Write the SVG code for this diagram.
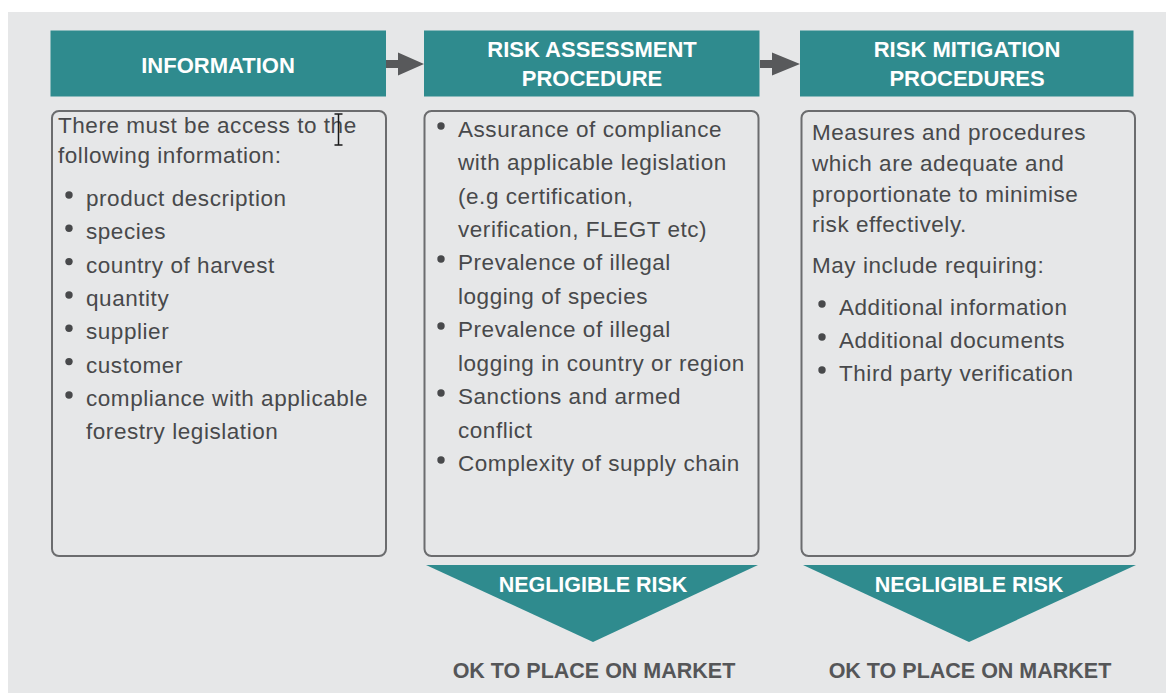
<svg xmlns="http://www.w3.org/2000/svg" width="1166" height="693" viewBox="0 0 1166 693">
  <defs>
    <style>
      .hdr { fill: #2f8b8e; }
      .box { fill: none; stroke: #6b6c6e; stroke-width: 2; }
      .htxt { font-family: "Liberation Sans", Arial, sans-serif; font-weight: bold; font-size: 22px; fill: #ffffff; text-anchor: middle; }
      .body { font-family: "Liberation Sans", Arial, sans-serif; font-size: 22.5px; letter-spacing: 0.55px; fill: #48494b; }
      .dot { fill: #48494b; }
      .tri { fill: #2f8b8e; }
      .ntxt { font-family: "Liberation Sans", Arial, sans-serif; font-weight: bold; font-size: 21.5px; fill: #ffffff; text-anchor: middle; }
      .ok { font-family: "Liberation Sans", Arial, sans-serif; font-weight: bold; font-size: 21.5px; fill: #555658; text-anchor: middle; }
      .arr { fill: #58595b; }
    </style>
  </defs>

  <rect x="0" y="0" width="1166" height="693" fill="#ffffff"/>
  <rect x="8" y="12" width="1158" height="681" fill="#e6e7e8"/>

  <g id="connectors">
    <polygon class="arr" points="386,60 398,60 398,52.5 424,64 398,75.5 398,68 386,68"/>
    <polygon class="arr" points="760,60 772,60 772,52.5 800,64 772,75.5 772,68 760,68"/>
  </g>

  <g id="information">
    <rect class="hdr" x="50.5" y="30.5" width="335.5" height="66"/>
    <text class="htxt" x="218" y="73">INFORMATION</text>
    <rect class="box" x="52" y="111" width="334" height="445" rx="7"/>
    <text class="body" x="58" y="133">There must be access to the</text>
    <text class="body" x="58" y="163">following information:</text>
    <circle class="dot" cx="69" cy="195" r="3.7"/>
    <text class="body" x="86" y="206">product description</text>
    <circle class="dot" cx="69" cy="228.3" r="3.7"/>
    <text class="body" x="86" y="239.3">species</text>
    <circle class="dot" cx="69" cy="261.6" r="3.7"/>
    <text class="body" x="86" y="272.6">country of harvest</text>
    <circle class="dot" cx="69" cy="295" r="3.7"/>
    <text class="body" x="86" y="306">quantity</text>
    <circle class="dot" cx="69" cy="328.3" r="3.7"/>
    <text class="body" x="86" y="339.3">supplier</text>
    <circle class="dot" cx="69" cy="361.6" r="3.7"/>
    <text class="body" x="86" y="372.6">customer</text>
    <circle class="dot" cx="69" cy="395" r="3.7"/>
    <text class="body" x="86" y="406">compliance with applicable</text>
    <text class="body" x="86" y="439">forestry legislation</text>
    <path d="M338.5 114 V145 M334.5 114 H342.5 M334.5 145 H342.5" stroke="#1a1a1a" stroke-width="1.5" fill="none"/>
  </g>

  <g id="risk-assessment">
    <rect class="hdr" x="424" y="30.5" width="335.5" height="66"/>
    <text class="htxt" x="592" y="57">RISK ASSESSMENT</text>
    <text class="htxt" x="592" y="86">PROCEDURE</text>
    <rect class="box" x="424.5" y="111" width="334" height="445" rx="7"/>
    <circle class="dot" cx="441" cy="126" r="3.7"/>
    <text class="body" x="458" y="137">Assurance of compliance</text>
    <text class="body" x="458" y="170">with applicable legislation</text>
    <text class="body" x="458" y="203.5">(e.g certification,</text>
    <text class="body" x="458" y="237">verification, FLEGT etc)</text>
    <circle class="dot" cx="441" cy="259" r="3.7"/>
    <text class="body" x="458" y="270">Prevalence of illegal</text>
    <text class="body" x="458" y="303.5">logging of species</text>
    <circle class="dot" cx="441" cy="326" r="3.7"/>
    <text class="body" x="458" y="337">Prevalence of illegal</text>
    <text class="body" x="458" y="370.5">logging in country or region</text>
    <circle class="dot" cx="441" cy="393" r="3.7"/>
    <text class="body" x="458" y="404">Sanctions and armed</text>
    <text class="body" x="458" y="437.5">conflict</text>
    <circle class="dot" cx="441" cy="460" r="3.7"/>
    <text class="body" x="458" y="471">Complexity of supply chain</text>
    <polygon class="tri" points="426,565 758,565 593,642"/>
    <text class="ntxt" x="593" y="592">NEGLIGIBLE RISK</text>
    <text class="ok" x="594" y="678">OK TO PLACE ON MARKET</text>
  </g>

  <g id="risk-mitigation">
    <rect class="hdr" x="800" y="30.5" width="333.5" height="66"/>
    <text class="htxt" x="967" y="57">RISK MITIGATION</text>
    <text class="htxt" x="967" y="86">PROCEDURES</text>
    <rect class="box" x="801.5" y="111" width="333.5" height="445" rx="7"/>
    <text class="body" x="812" y="139.5">Measures and procedures</text>
    <text class="body" x="812" y="170.5">which are adequate and</text>
    <text class="body" x="812" y="201.5">proportionate to minimise</text>
    <text class="body" x="812" y="232">risk effectively.</text>
    <text class="body" x="812" y="273">May include requiring:</text>
    <circle class="dot" cx="822" cy="304" r="3.7"/>
    <text class="body" x="839" y="315">Additional information</text>
    <circle class="dot" cx="822" cy="337" r="3.7"/>
    <text class="body" x="839" y="348">Additional documents</text>
    <circle class="dot" cx="822" cy="370" r="3.7"/>
    <text class="body" x="839" y="381">Third party verification</text>
    <polygon class="tri" points="803,565 1136,565 969,642"/>
    <text class="ntxt" x="969" y="592">NEGLIGIBLE RISK</text>
    <text class="ok" x="970" y="678">OK TO PLACE ON MARKET</text>
  </g>
</svg>
